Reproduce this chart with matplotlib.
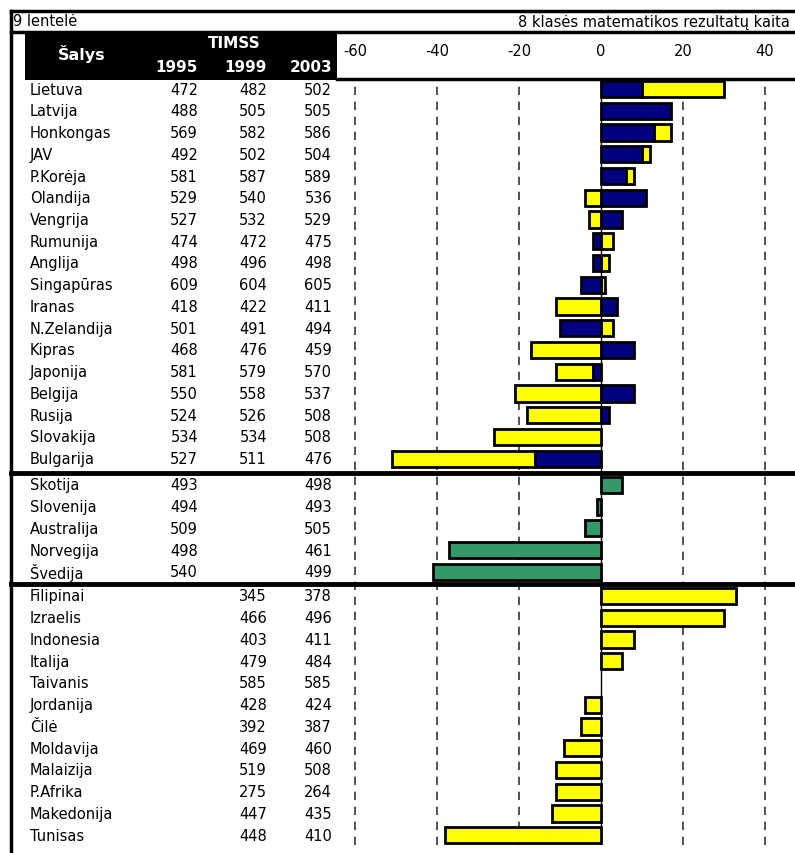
import matplotlib.pyplot as plt
import matplotlib.transforms as mtransforms
from matplotlib.patches import Rectangle
from matplotlib.lines import Line2D

plt.rcParams['font.family'] = ['DejaVu Sans']

# group 1: countries with all three TIMSS rounds
g1_names = ['Lietuva', 'Latvija', 'Honkongas', 'JAV', 'P.Korėja', 'Olandija', 'Vengrija',
            'Rumunija', 'Anglija', 'Singapūras', 'Iranas', 'N.Zelandija', 'Kipras',
            'Japonija', 'Belgija', 'Rusija', 'Slovakija', 'Bulgarija']
g1_1995 = [472, 488, 569, 492, 581, 529, 527, 474, 498, 609, 418, 501, 468, 581, 550, 524, 534, 527]
g1_1999 = [482, 505, 582, 502, 587, 540, 532, 472, 496, 604, 422, 491, 476, 579, 558, 526, 534, 511]
g1_2003 = [502, 505, 586, 504, 589, 536, 529, 475, 498, 605, 411, 494, 459, 570, 537, 508, 508, 476]

# group 2: 1995 and 2003
g2_names = ['Skotija', 'Slovenija', 'Australija', 'Norvegija', 'Švedija']
g2_1995 = [493, 494, 509, 498, 540]
g2_2003 = [498, 493, 505, 461, 499]

# group 3: 1999 and 2003
g3_names = ['Filipinai', 'Izraelis', 'Indonesia', 'Italija', 'Taivanis', 'Jordanija', 'Čilė',
            'Moldavija', 'Malaizija', 'P.Afrika', 'Makedonija', 'Tunisas']
g3_1999 = [345, 466, 403, 479, 585, 428, 392, 469, 519, 275, 447, 448]
g3_2003 = [378, 496, 411, 484, 585, 424, 387, 460, 508, 264, 435, 410]

NAVY = '#000080'
YEL = '#FFFF00'
GREEN = '#339966'

W, H = 795, 854
fig = plt.figure(figsize=(W / 100, H / 100), dpi=100)

def fx(px):
    return px / W

def fy(py):
    return 1 - py / H

ax = fig.add_axes([fx(337), fy(846), fx(795) - fx(337), fy(80) - fy(846)])
ax.set_xlim((337 - 601) / 4.1, (795 - 601) / 4.1)

# row positions (row units, with small gaps between groups)
y1 = [i for i in range(len(g1_names))]
y2 = [18.2 + i for i in range(len(g2_names))]
y3 = [23.31 + i for i in range(len(g3_names))]
ax.set_ylim(34.76, -0.46)

bh = 0.74
lw = 2.0

def ew(v):
    # no outline for empty bars
    return lw if v != 0 else 0

# gridlines
for v in [-60, -40, -20, 20, 40]:
    ax.axvline(v, color='#333333', lw=1.2, ls=(0, (5, 4)), zorder=0)
ax.axvline(0, color='black', lw=1.0, zorder=1)

# group 1: stacked changes 1995->1999 (navy) and 1999->2003 (yellow)
d1 = [b - a for a, b in zip(g1_1995, g1_1999)]
d2 = [c - b for b, c in zip(g1_1999, g1_2003)]
for y, a, b in zip(y1, d1, d2):
    start = a if a * b > 0 else 0
    ax.barh(y, b, left=start, height=bh, color=YEL, edgecolor='black', lw=ew(b), zorder=2)
    ax.barh(y, a, height=bh, color=NAVY, edgecolor='black', lw=ew(a), zorder=3)

# group 2
dg2 = [b - a for a, b in zip(g2_1995, g2_2003)]
ax.barh(y2, dg2, height=bh, color=GREEN, edgecolor='black', lw=[ew(v) for v in dg2], zorder=2)

# group 3
dg3 = [b - a for a, b in zip(g3_1999, g3_2003)]
ax.barh(y3, dg3, height=bh, color=YEL, edgecolor='black', lw=[ew(v) for v in dg3], zorder=2)

ax.xaxis.tick_top()
ax.set_xticks([-60, -40, -20, 0, 20, 40])
ax.set_xticklabels(['-60', '-40', '-20', '0', '20', '40'])
ax.tick_params(axis='x', length=0, pad=15, labelsize=10.5)
ax.set_yticks([])
for s in ax.spines.values():
    s.set_visible(False)

# table text
tr = mtransforms.blended_transform_factory(fig.transFigure, ax.transData)
fs = 10.5

def row(y, name, v95, v99, v03):
    ax.text(fx(30), y, name, transform=tr, ha='left', va='center', fontsize=fs, clip_on=False)
    for px, v in [(198, v95), (267, v99), (332, v03)]:
        if v is not None:
            ax.text(fx(px), y, str(v), transform=tr, ha='right', va='center', fontsize=fs,
                    clip_on=False)

for i in range(len(g1_names)):
    row(y1[i], g1_names[i], g1_1995[i], g1_1999[i], g1_2003[i])
for i in range(len(g2_names)):
    row(y2[i], g2_names[i], g2_1995[i], None, g2_2003[i])
for i in range(len(g3_names)):
    row(y3[i], g3_names[i], None, g3_1999[i], g3_2003[i])

# separators between groups
for ys in [17.66, 22.76]:
    ax.plot([fx(11), 1], [ys, ys], transform=tr, color='black', lw=3.5, clip_on=False, zorder=5)

# frame and header
fig.add_artist(Line2D([fx(11), 1], [fy(12), fy(12)], color='black', lw=2.5))
fig.add_artist(Line2D([fx(11), 1], [fy(33), fy(33)], color='black', lw=2.5))
fig.add_artist(Line2D([fx(337), 1], [fy(80), fy(80)], color='black', lw=2.5))
fig.add_artist(Line2D([fx(11), fx(11)], [fy(12), 0], color='black', lw=2.5))
fig.add_artist(Rectangle((fx(25), fy(81)), fx(337) - fx(25), fy(33) - fy(81),
                         transform=fig.transFigure, facecolor='black', edgecolor='none'))

fig.text(fx(13), fy(22), '9 lentelė', ha='left', va='center', fontsize=fs)
fig.text(fx(790), fy(22), '8 klasės matematikos rezultatų kaita', ha='right', va='center',
         fontsize=fs)
fig.text(fx(82), fy(54), 'Šalys', ha='center', va='center', fontsize=11.5, color='white',
         fontweight='bold')
fig.text(fx(234), fy(44), 'TIMSS', ha='center', va='center', fontsize=11, color='white',
         fontweight='bold')
for px, lab in [(198, '1995'), (267, '1999'), (332, '2003')]:
    fig.text(fx(px), fy(68), lab, ha='right', va='center', fontsize=11, color='white',
             fontweight='bold')

fig.savefig('out.png', dpi=100)
